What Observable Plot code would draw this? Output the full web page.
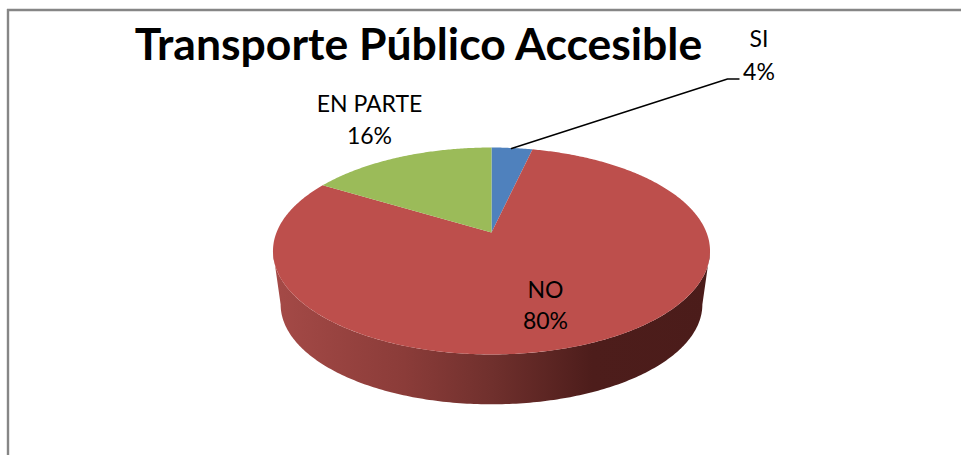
<!DOCTYPE html>
<html lang="es">
<head>
<meta charset="utf-8">
<script src="https://cdn.jsdelivr.net/npm/d3@7"></script>
<script src="https://cdn.jsdelivr.net/npm/@observablehq/plot@0.6"></script>
<style>
html,body{margin:0;padding:0;background:#fff;overflow:hidden}
svg{display:block}
</style>
</head>
<body>
<div id="chart"></div>
<script>
const chartTitle = "Transporte Público Accesible";
const categories = ["SI", "NO", "EN PARTE"];
const shares = [3.6, 80, 16.4];
const percentLabels = ["4%", "80%", "16%"];
const sliceColors = ["#4f81bd", "#bd4f4c", "#9bbb59"];

// layout of the drawing (pixel-like units of the x and y scales)
const W = 961, H = 455;
const cx = 491, R = 215, apexY = 232, tilt = 0.1787, fore = -58.7;
const depthShift = 53.5, depthScale = 0.965, midY = 250.5;
const labelX = [758.5, 545, 369], labelY1 = [39, 290, 104], labelY2 = [72, 321, 136];
const leaderX = [511, 727, 738.5], leaderY = [148, 78.5, 78.5];

const project = (t, k = 1, shift = 0) => {
  const u = Math.sin(t), v = Math.cos(t), w = 1 + tilt * v;
  const y = (apexY + fore * v) / w;
  return {x: cx + k * R * u / w, y: shift + midY + k * (y - midY)};
};
const TAU = Math.PI * 2;
const total = d3.sum(shares);
let acc = 0;
const slices = [];
categories.forEach((c, i) => {
  const a0 = acc / total * TAU; acc += shares[i];
  const a1 = acc / total * TAU;
  const n = Math.max(4, Math.ceil((a1 - a0) / 0.01));
  slices.push({c, x: cx, y: apexY});
  for (let j = 0; j <= n; j++) {
    const p = project(a0 + (a1 - a0) * j / n);
    slices.push({c, x: p.x, y: p.y});
  }
});
// front wall of the pie, between its two silhouette points
const tStart = Math.acos(-tilt), tEnd = TAU - tStart;
const wall = [];
for (let j = 0; j <= 200; j++) wall.push(project(tStart + (tEnd - tStart) * j / 200));
for (let j = 200; j >= 0; j--) wall.push(project(tStart + (tEnd - tStart) * j / 200, depthScale, depthShift));

const gradientDefs = () => {
  const svg = d3.create("svg:g");
  const g = svg.append("defs").append("linearGradient").attr("id", "wallShade");
  [[0, "#a54a47"], [0.3, "#8b3c39"], [0.5, "#70302d"], [0.73, "#4d1d1b"], [1, "#4b1c1a"]]
    .forEach(([o, c]) => g.append("stop").attr("offset", o).attr("stop-color", c));
  return svg.node();
};

const font = "Lato, Carlito, Calibri, sans-serif";
const chart = Plot.plot({
  width: W, height: H,
  margin: 0,
  x: {domain: [0, W], range: [0, W], axis: null},
  y: {domain: [0, H], range: [0, H], axis: null},
  color: {domain: categories, range: sliceColors},
  style: {background: "#fff", fontFamily: font},
  marks: [
    gradientDefs,
    Plot.ruleY([9.5], {x1: 7, x2: W, stroke: "#868686", strokeWidth: 2.4}),
    Plot.ruleX([7.5], {y1: 9, y2: H, stroke: "#868686", strokeWidth: 2.4}),
    Plot.line(wall, {x: "x", y: "y", fill: "url(#wallShade)", stroke: "none"}),
    Plot.line(slices, {x: "x", y: "y", z: "c", fill: "c", stroke: "none"}),
    Plot.line(leaderX.map((x, i) => ({x, y: leaderY[i]})), {x: "x", y: "y", stroke: "#000", strokeWidth: 1.4}),
    Plot.text([chartTitle], {x: () => 418, y: () => 45, text: d => d, fontSize: 44.5, fontWeight: 700, fill: "#000", textAnchor: "middle", fontFamily: font}),
    Plot.text(categories, {x: (d, i) => labelX[i], y: (d, i) => labelY1[i], text: d => d, fontSize: 23, fill: "#000", fontFamily: font}),
    Plot.text(percentLabels, {x: (d, i) => labelX[i], y: (d, i) => labelY2[i], text: d => d, fontSize: 23, fill: "#000", fontFamily: font})
  ]
});
document.getElementById("chart").append(chart);
</script>
</body>
</html>
